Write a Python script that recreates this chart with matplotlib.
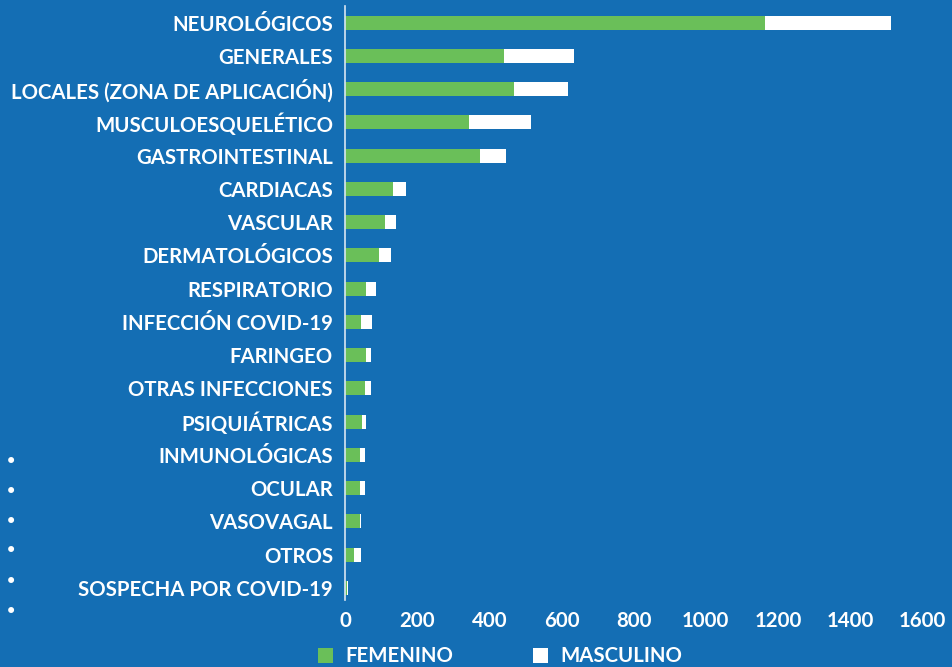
import matplotlib
matplotlib.use('Agg')
import matplotlib.pyplot as plt
from matplotlib.patches import Patch

categories = ['NEUROLÓGICOS', 'GENERALES', 'LOCALES (ZONA DE APLICACIÓN)',
              'MUSCULOESQUELÉTICO', 'GASTROINTESTINAL', 'CARDIACAS', 'VASCULAR',
              'DERMATOLÓGICOS', 'RESPIRATORIO', 'INFECCIÓN COVID-19', 'FARINGEO',
              'OTRAS INFECCIONES', 'PSIQUIÁTRICAS', 'INMUNOLÓGICAS', 'OCULAR',
              'VASOVAGAL', 'OTROS', 'SOSPECHA POR COVID-19']
femenino = [1165, 440, 467, 342, 374, 133, 111, 94, 56, 42, 58, 53, 47, 39, 39, 39, 25, 4]
masculino = [350, 195, 150, 172, 71, 36, 28, 31, 30, 33, 14, 19, 11, 14, 14, 5, 17, 4]
xticks = [0, 200, 400, 600, 800, 1000, 1200, 1400, 1600]

bg = '#146EB4'
green = '#6ABF59'
font = 'Lato'
fs = 14.7

fig = plt.figure(figsize=(9.53, 6.67), dpi=100, facecolor=bg)
ax = fig.add_axes([0.3625, 0.1005, 0.605, 0.8906], facecolor=bg)

ypos = list(range(len(categories)))
ax.barh(ypos, femenino, height=0.42, color=green, label='FEMENINO')
ax.barh(ypos, masculino, left=femenino, height=0.42, color='white', label='MASCULINO')

ax.set_xlim(0, 1600)
ax.set_ylim(len(categories) - 0.64, -0.5)
ax.set_yticks(ypos)
ax.set_yticklabels(categories, fontsize=fs, fontweight='bold', color='white', family=font)
ax.set_xticks(xticks)
ax.set_xticklabels([str(t) for t in xticks], fontsize=fs, fontweight='bold', color='white', family=font)
ax.tick_params(axis='both', length=0)
ax.tick_params(axis='y', pad=9)
ax.tick_params(axis='x', pad=8)

for s in ['top', 'right', 'bottom']:
    ax.spines[s].set_visible(False)
ax.spines['left'].set_color('#d8e6f2')
ax.spines['left'].set_linewidth(1.2)

handles = [Patch(facecolor=green, label='FEMENINO'), Patch(facecolor='white', label='MASCULINO')]
leg = fig.legend(handles=handles, loc='center', bbox_to_anchor=(0.525, 0.016), ncol=2,
                 frameon=False, handlelength=0.75, handleheight=0.75, columnspacing=3.9,
                 handletextpad=0.6, prop={'family': font, 'weight': 'bold', 'size': fs})
for t in leg.get_texts():
    t.set_color('white')

# stray bullets on the left edge of the original slide
for yb in [462, 492, 522, 551, 582, 612]:
    fig.text(11 / 953, 1 - yb / 667, '•', color='white', fontsize=15, ha='center', va='center')

fig.savefig('out.png', dpi=100, facecolor=bg)
